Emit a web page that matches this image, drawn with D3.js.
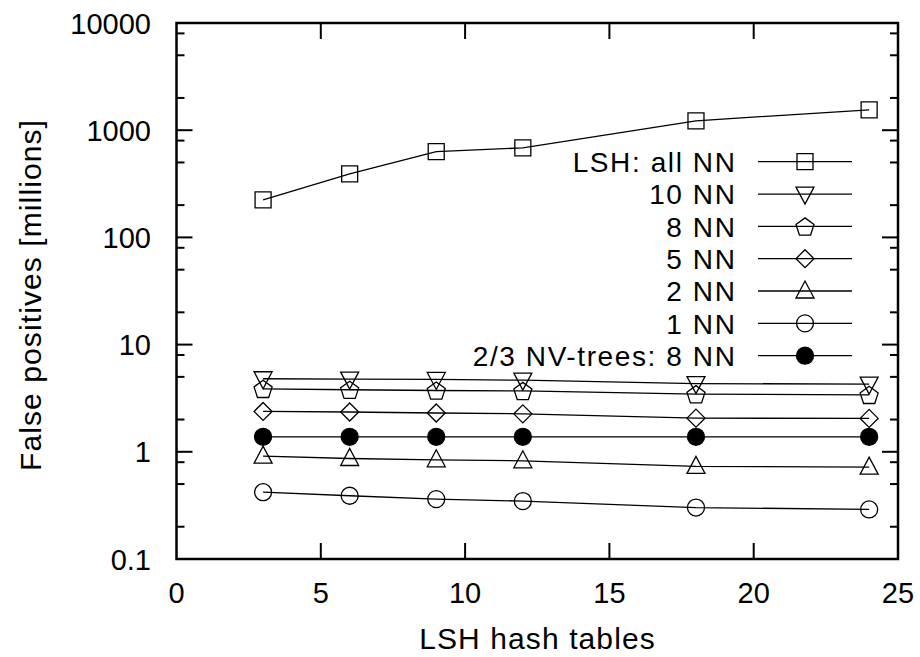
<!DOCTYPE html>
<html>
<head>
<meta charset="utf-8">
<script src="https://cdn.jsdelivr.net/npm/d3@7"></script>
<style>
  body { margin: 0; background: #fff; }
  text { font-family: "Liberation Sans", Arial, Helvetica, sans-serif; fill: #000; }
</style>
</head>
<body>
<svg id="chart" width="920" height="657"></svg>
<script>
const xValues = [3, 6, 9, 12, 18, 24];
const lshAll  = [224, 392, 630, 685, 1224, 1550];
const nn10    = [4.8, 4.76, 4.73, 4.66, 4.33, 4.28];
const nn8     = [3.87, 3.79, 3.73, 3.7, 3.45, 3.4];
const nn5     = [2.38, 2.35, 2.3, 2.26, 2.06, 2.05];
const nn2     = [0.91, 0.866, 0.842, 0.824, 0.73, 0.72];
const nn1     = [0.42, 0.389, 0.362, 0.347, 0.302, 0.29];
const nvTrees = [1.38, 1.38, 1.38, 1.38, 1.38, 1.38];
const xTicks = [0, 5, 10, 15, 20, 25];
const yTicks = [0.1, 1, 10, 100, 1000, 10000];
const yTickLabels = ["0.1", "1", "10", "100", "1000", "10000"];
const yMinor = [0.2, 0.5, 0.8, 2, 5, 8, 20, 50, 80, 200, 500, 800, 2000, 5000, 8000];

const series = [
  { name: "LSH: all NN", values: lshAll, symbol: "square" },
  { name: "10 NN", values: nn10, symbol: "triangleDown" },
  { name: "8 NN", values: nn8, symbol: "pentagon" },
  { name: "5 NN", values: nn5, symbol: "diamond" },
  { name: "2 NN", values: nn2, symbol: "triangleUp" },
  { name: "1 NN", values: nn1, symbol: "circle" },
  { name: "2/3 NV-trees: 8 NN", values: nvTrees, symbol: "filledCircle" }
];

const L = 176.5, R = 898, T = 23, B = 559;
const svg = d3.select("#chart");
const x = d3.scaleLinear().domain([0, 25]).range([L, R]);
const y = d3.scaleLog().domain([0.1, 10000]).range([B, T]);

function symbolPath(type, cx, cy) {
  const s = 8;
  switch (type) {
    case "square": return `M${cx-s},${cy-s}h${2*s}v${2*s}h${-2*s}Z`;
    case "triangleDown": return `M${cx-s-1},${cy-s+1}L${cx+s+1},${cy-s+1}L${cx},${cy+s+2}Z`;
    case "triangleUp": return `M${cx-s-1},${cy+s-1}L${cx+s+1},${cy+s-1}L${cx},${cy-s-2}Z`;
    case "diamond": return `M${cx},${cy-s-1}L${cx+s+1},${cy}L${cx},${cy+s+1}L${cx-s-1},${cy}Z`;
    case "pentagon": {
      const r = 9.5; let p = "";
      for (let i = 0; i < 5; i++) {
        const a = -Math.PI/2 + i*2*Math.PI/5;
        p += (i ? "L" : "M") + (cx + r*Math.cos(a)).toFixed(2) + "," + (cy + 1 + r*Math.sin(a)).toFixed(2);
      }
      return p + "Z";
    }
    default: return null;
  }
}
function drawSymbol(g, type, cx, cy) {
  if (type === "circle" || type === "filledCircle") {
    g.append("circle").attr("cx", cx).attr("cy", cy).attr("r", 8.5)
      .attr("fill", type === "filledCircle" ? "#000" : "none")
      .attr("stroke", "#000").attr("stroke-width", 1.3);
  } else {
    g.append("path").attr("d", symbolPath(type, cx, cy))
      .attr("fill", "none").attr("stroke", "#000").attr("stroke-width", 1.3);
  }
}

// ticks
const tickG = svg.append("g").attr("stroke", "#000").attr("stroke-width", 2);
xTicks.forEach(v => {
  if (v === 0 || v === 25) return;
  tickG.append("line").attr("x1", x(v)).attr("x2", x(v)).attr("y1", B).attr("y2", B - 16);
  tickG.append("line").attr("x1", x(v)).attr("x2", x(v)).attr("y1", T).attr("y2", T + 16);
});
yTicks.forEach(v => {
  if (v === 0.1 || v === 10000) return;
  tickG.append("line").attr("x1", L).attr("x2", L + 16).attr("y1", y(v)).attr("y2", y(v));
  tickG.append("line").attr("x1", R).attr("x2", R - 16).attr("y1", y(v)).attr("y2", y(v));
});
yMinor.forEach(v => {
  tickG.append("line").attr("x1", L).attr("x2", L + 8).attr("y1", y(v)).attr("y2", y(v));
  tickG.append("line").attr("x1", R).attr("x2", R - 8).attr("y1", y(v)).attr("y2", y(v));
});

// tick labels
svg.append("g").selectAll("text").data(xTicks).join("text")
  .attr("x", d => x(d)).attr("y", 603).attr("text-anchor", "middle")
  .attr("font-size", 29).text(d => d);
svg.append("g").selectAll("text").data(yTicks).join("text")
  .attr("x", 151).attr("y", d => y(d) + 10.5).attr("text-anchor", "end")
  .attr("font-size", 29).text((d, i) => yTickLabels[i]);

// axis titles
svg.append("text").attr("x", 537.5).attr("y", 649).attr("text-anchor", "middle")
  .attr("font-size", 30).attr("letter-spacing", 1.1).text("LSH hash tables");
svg.append("text").attr("transform", "translate(41,295) rotate(-90)")
  .attr("text-anchor", "middle").attr("font-size", 30).attr("letter-spacing", 1.1)
  .text("False positives [millions]");

// series
const line = d3.line().x((d, i) => x(xValues[i])).y(d => y(d));
series.forEach(s => {
  svg.append("path").attr("d", line(s.values)).attr("fill", "none")
    .attr("stroke", "#000").attr("stroke-width", 1.3);
  const g = svg.append("g");
  s.values.forEach((v, i) => drawSymbol(g, s.symbol, x(xValues[i]), y(v)));
});

// legend
const legY0 = 161.7, legDy = 32.33;
series.forEach((s, i) => {
  const yy = legY0 + i * legDy;
  svg.append("text").attr("x", 736.5).attr("y", yy + 10.3).attr("text-anchor", "end")
    .attr("font-size", 28).attr("letter-spacing", 1.6).text(s.name);
  svg.append("line").attr("x1", 758).attr("x2", 852).attr("y1", yy).attr("y2", yy)
    .attr("stroke", "#000").attr("stroke-width", 1.3);
  drawSymbol(svg.append("g"), s.symbol, 805, yy);
});

// frame
svg.append("rect").attr("x", L).attr("y", T).attr("width", R - L).attr("height", B - T)
  .attr("fill", "none").attr("stroke", "#000").attr("stroke-width", 2.5);
</script>
</body>
</html>
